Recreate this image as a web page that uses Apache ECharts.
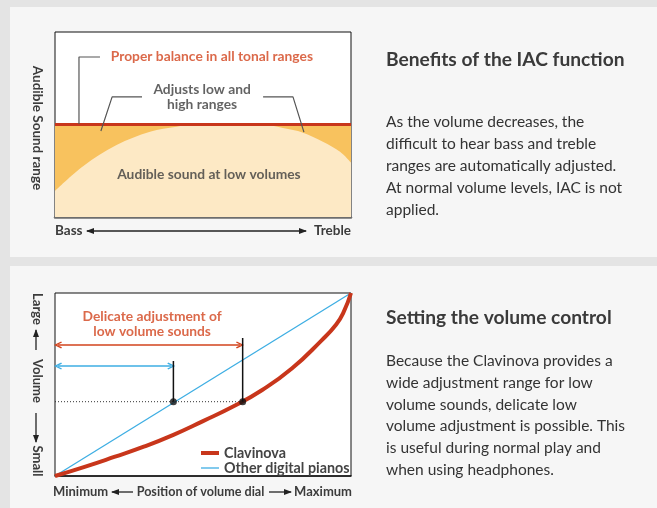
<!DOCTYPE html>
<html><head><meta charset="utf-8">
<script src="https://cdn.jsdelivr.net/npm/echarts/dist/echarts.min.js"></script>
<style>html,body{margin:0;padding:0;background:#e4e4e4}#c{width:657px;height:508px}</style>
</head><body><div id="c"></div>
<script>
// ---------- DATA (0..100 relative units on both axes) ----------
// Top chart: IAC
const properBalance = [[0, 50], [100, 50]];
const lowVolumeSound = [[0, 14.1], [9.6, 27.6], [20.8, 38.9], [32.1, 46.1], [41.1, 48.8], [46, 49.8], [70, 49.8], [77, 48.1], [83.8, 45.6], [90.5, 40.7], [96.3, 35.3], [100, 29.4]];
const leaderBalance = [[15.2, 86.5], [8.1, 86.5], [8.1, 50.3]];
const leaderAdjustLeft = [[29.4, 64.9], [19.3, 64.9], [15.5, 46.5]];
const leaderAdjustRight = [[70.3, 64.9], [80.4, 64.9], [84.1, 45.9]];
const topLabels = [
  { text: 'Proper balance in all tonal ranges', pos: [53, 86.5], kind: 'red' },
  { text: 'Adjusts low and\nhigh ranges', pos: [49.7, 65], kind: 'dark' },
  { text: 'Audible sound at low volumes', pos: [52, 22.7], kind: 'dark' }
];
// Bottom chart: volume control
const dialPosition = [0, 10, 20, 30, 40, 50, 60, 70, 80, 90, 95, 97.5, 100];
const clavinovaVolume = [0, 5, 10.4, 16, 22.5, 30, 37.8, 47, 58.7, 74, 82.8, 89.5, 100];
const otherPianos = [[0, 0], [100, 100]];
const refLevel = 40.6;
const otherDialAtLevel = 40;
const clavDialAtLevel = 63.4;
const otherMarkerTop = 62.8;
const clavMarkerTop = 75.4;
const clavRange = [[1, 71.6], [62.5, 71.6]];
const otherRange = [[1, 60.1], [39.3, 60.1]];
const bottomLabel = { text: 'Delicate adjustment of\nlow volume sounds', pos: [32.8, 83] };
const seriesNames = ['Clavinova', 'Other digital pianos'];

// ---------- STYLE ----------
const FONT = 'Lato, "Open Sans", sans-serif';
const RED = '#c8361b', RED_TXT = '#d2431d', BLUE = '#3eaee3', DARK = '#3c3c3c';
const ORANGE = '#f8c25e', LIGHT = '#fde9c5';

const chart = echarts.init(document.getElementById('c'), null, { renderer: 'canvas' });

function leader(data) {
  return { type: 'line', xAxisIndex: 0, yAxisIndex: 0, data, symbol: 'none', silent: true, z: 6,
    lineStyle: { color: '#555', width: 1.2 }, animation: false };
}
function labelSeries(items, xi, colorFn) {
  return { type: 'scatter', xAxisIndex: xi, yAxisIndex: xi, symbolSize: 0, silent: true, z: 10, animation: false,
    data: items.map(it => ({ value: it.pos, label: { formatter: it.text, color: colorFn(it) } })),
    label: { show: true, position: 'inside', align: 'center', verticalAlign: 'middle',
      fontFamily: FONT, fontWeight: 'bold', fontSize: 13.8, lineHeight: 15 } };
}
const chevron = 'path://M5,0 L10,9 L8.4,10 L5,3.8 L1.6,10 L0,9 Z';
function rangeArrow(pts, color) {
  return { type: 'line', xAxisIndex: 1, yAxisIndex: 1, data: [], silent: true, animation: false,
    markLine: { silent: true, animation: false, symbol: [chevron, chevron], symbolSize: [7, 8],
      label: { show: false }, lineStyle: { color, width: 1.5, type: 'solid' },
      data: [[{ coord: pts[0] }, { coord: pts[1] }]] } };
}

// graphic helpers
function hArrow(x1, x2, y, heads) {
  const els = [{ type: 'line', shape: { x1, y1: y, x2, y2: y }, style: { stroke: '#222', lineWidth: 1.3 } }];
  if (heads.includes('L')) els.push({ type: 'polygon', shape: { points: [[x1 - 1, y], [x1 + 7, y - 3], [x1 + 7, y + 3]] }, style: { fill: '#222' } });
  if (heads.includes('R')) els.push({ type: 'polygon', shape: { points: [[x2 + 1, y], [x2 - 7, y - 3], [x2 - 7, y + 3]] }, style: { fill: '#222' } });
  return els;
}
function vArrow(x, y1, y2, heads) {
  const els = [{ type: 'line', shape: { x1: x, y1, x2: x, y2 }, style: { stroke: '#222', lineWidth: 1.3 } }];
  if (heads.includes('T')) els.push({ type: 'polygon', shape: { points: [[x, y1 - 1], [x - 3, y1 + 7], [x + 3, y1 + 7]] }, style: { fill: '#222' } });
  if (heads.includes('B')) els.push({ type: 'polygon', shape: { points: [[x, y2 + 1], [x - 3, y2 - 7], [x + 3, y2 - 7]] }, style: { fill: '#222' } });
  return els;
}
function txt(text, x, y, opts) {
  return Object.assign({ type: 'text', x, y, silent: true,
    style: Object.assign({ text, fill: DARK, font: 'bold 13.5px ' + FONT, align: 'left', verticalAlign: 'middle' }, opts && opts.style || {}) },
    opts && opts.el || {});
}

const graphics = [
  { type: 'rect', shape: { x: 10, y: 7, width: 647, height: 250 }, style: { fill: '#f6f6f6' }, z: -10 },
  { type: 'rect', shape: { x: 10, y: 266, width: 647, height: 242 }, style: { fill: '#f6f6f6' }, z: -10 },
  // right side texts
  txt('Benefits of the IAC function', 386, 60, { style: { font: 'bold 19.2px ' + FONT, fill: '#3a3a3a' } }),
  txt('As the volume decreases, the\ndifficult to hear bass and treble\nranges are automatically adjusted.\nAt normal volume levels, IAC is not\napplied.', 386, 111,
    { style: { font: '15.5px ' + FONT, fill: '#333', verticalAlign: 'top', lineHeight: 22 } }),
  txt('Setting the volume control', 386, 318, { style: { font: 'bold 19.2px ' + FONT, fill: '#3a3a3a' } }),
  txt('Because the Clavinova provides a\nwide adjustment range for low\nvolume sounds, delicate low\nvolume adjustment is possible. This\nis useful during normal play and\nwhen using headphones.', 386, 350,
    { style: { font: '15.5px ' + FONT, fill: '#333', verticalAlign: 'top', lineHeight: 21.8 } }),
  // top axis captions
  txt('Bass', 55, 231),
  ...hArrow(87, 306, 231, 'LR'),
  txt('Treble', 351, 231, { style: { align: 'right' } }),
  txt('Audible Sound range', 37, 128, { style: { align: 'center' }, el: { rotation: -Math.PI / 2 } }),
  // bottom axis captions
  txt('Minimum', 53, 492, { style: { font: 'bold 13px ' + FONT } }),
  ...hArrow(112, 133, 492, 'L'),
  txt('Position of volume dial', 200.5, 492, { style: { align: 'center', font: 'bold 12.6px ' + FONT } }),
  ...hArrow(269, 291, 492, 'R'),
  txt('Maximum', 352, 492, { style: { align: 'right', font: 'bold 13px ' + FONT } }),
  txt('Large', 37, 309, { style: { align: 'center', font: 'bold 13px ' + FONT }, el: { rotation: -Math.PI / 2 } }),
  ...vArrow(36, 330, 350, 'T'),
  txt('Volume', 37, 381, { style: { align: 'center', font: 'bold 13px ' + FONT }, el: { rotation: -Math.PI / 2 } }),
  ...vArrow(36, 413, 442, 'B'),
  txt('Small', 37, 461, { style: { align: 'center', font: 'bold 13px ' + FONT }, el: { rotation: -Math.PI / 2 } })
];

const hiddenAxis = (gi, extra) => Object.assign({ type: 'value', gridIndex: gi, min: 0, max: 100,
  axisLabel: { show: false }, axisTick: { show: false }, splitLine: { show: false }, axisLine: { show: false } }, extra || {});

const option = {
  backgroundColor: '#e4e4e4',
  animation: false,
  textStyle: { fontFamily: FONT },
  grid: [
    { left: 55, top: 32, width: 296, height: 185, show: true, backgroundColor: '#fff', borderColor: '#111', borderWidth: 1 },
    { left: 55, top: 293, width: 296, height: 183, show: true, backgroundColor: '#fff', borderColor: '#111', borderWidth: 1 }
  ],
  xAxis: [
    hiddenAxis(0, { axisLine: { show: true, onZero: false, lineStyle: { color: '#6d6d6d', width: 2.5 } } }),
    hiddenAxis(1, { axisLine: { show: true, onZero: false, lineStyle: { color: '#111', width: 1.5 } } })
  ],
  yAxis: [hiddenAxis(0), hiddenAxis(1)],
  legend: {
    left: 196, top: 441, orient: 'vertical', itemWidth: 18, itemHeight: 10, itemGap: 1,
    selectedMode: false,
    textStyle: { fontFamily: FONT, fontWeight: 'bold', fontSize: 14.3, color: '#444', lineHeight: 14 },
    data: [
      { name: seriesNames[0], icon: 'path://M0,0H18V4H0Z' },
      { name: seriesNames[1], icon: 'path://M0,0H18V1.3H0Z' }
    ]
  },
  graphic: graphics,
  series: [
    // top chart
    { type: 'line', xAxisIndex: 0, yAxisIndex: 0, data: properBalance, symbol: 'none', silent: true, z: 1,
      lineStyle: { width: 0 }, areaStyle: { color: ORANGE, opacity: 1 } },
    { type: 'line', xAxisIndex: 0, yAxisIndex: 0, data: lowVolumeSound, symbol: 'none', silent: true, z: 2, smooth: 0.35,
      lineStyle: { width: 0 }, areaStyle: { color: LIGHT, opacity: 1 } },
    { type: 'line', xAxisIndex: 0, yAxisIndex: 0, data: properBalance, symbol: 'none', silent: true, z: 5,
      lineStyle: { width: 3, color: RED } },
    leader(leaderBalance), leader(leaderAdjustLeft), leader(leaderAdjustRight),
    labelSeries(topLabels, 0, it => it.kind === 'red' ? RED_TXT : DARK),
    // bottom chart
    { name: seriesNames[1], type: 'line', xAxisIndex: 1, yAxisIndex: 1, data: otherPianos, symbol: 'none', z: 3,
      color: BLUE, itemStyle: { color: BLUE }, lineStyle: { width: 1.3, color: BLUE } },
    { name: seriesNames[0], type: 'line', xAxisIndex: 1, yAxisIndex: 1, symbol: 'none', z: 4, smooth: 0.5,
      data: dialPosition.map((d, i) => [d, clavinovaVolume[i]]),
      color: RED, itemStyle: { color: RED }, lineStyle: { width: 4, color: RED } },
    { type: 'line', xAxisIndex: 1, yAxisIndex: 1, symbol: 'none', silent: true, z: 2,
      data: [[0, refLevel], [clavDialAtLevel, refLevel]], lineStyle: { color: '#333', width: 1, type: [1, 2] } },
    { type: 'line', xAxisIndex: 1, yAxisIndex: 1, symbol: 'none', silent: true, z: 5,
      data: [[otherDialAtLevel, refLevel], [otherDialAtLevel, otherMarkerTop]], lineStyle: { color: '#111', width: 1.5 } },
    { type: 'line', xAxisIndex: 1, yAxisIndex: 1, symbol: 'none', silent: true, z: 5,
      data: [[clavDialAtLevel, refLevel], [clavDialAtLevel, clavMarkerTop]], lineStyle: { color: '#111', width: 1.5 } },
    { type: 'scatter', xAxisIndex: 1, yAxisIndex: 1, silent: true, z: 7, symbolSize: 7,
      itemStyle: { color: '#111' }, data: [[otherDialAtLevel, refLevel], [clavDialAtLevel, refLevel]] },
    rangeArrow(clavRange, '#d2431d'),
    rangeArrow(otherRange, BLUE),
    labelSeries([bottomLabel], 1, () => RED_TXT)
  ]
};
chart.setOption(option);
</script></body></html>
